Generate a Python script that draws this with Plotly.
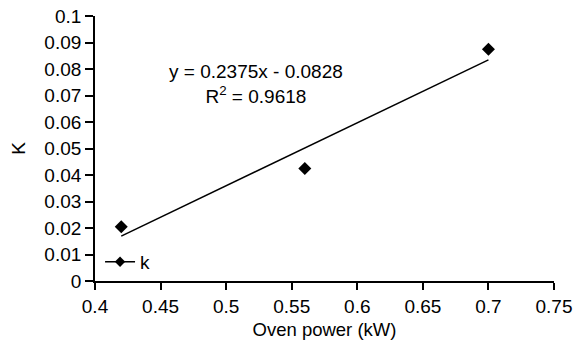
import plotly.graph_objects as go

power_kw = [0.42, 0.56, 0.70]
k_values = [0.0205, 0.0425, 0.0875]
slope = 0.2375
intercept = -0.0828
x_ticks = [0.4, 0.45, 0.5, 0.55, 0.6, 0.65, 0.7, 0.75]
x_tick_text = ["0.4", "0.45", "0.5", "0.55", "0.6", "0.65", "0.7", "0.75"]
y_ticks = [0, 0.01, 0.02, 0.03, 0.04, 0.05, 0.06, 0.07, 0.08, 0.09, 0.1]
y_tick_text = ["0", "0.01", "0.02", "0.03", "0.04", "0.05", "0.06", "0.07", "0.08", "0.09", "0.1"]

trend_x = [min(power_kw), max(power_kw)]
trend_y = [slope * v + intercept for v in trend_x]

font = "Liberation Sans, Arial, sans-serif"
fig = go.Figure()
fig.add_trace(go.Scatter(x=power_kw, y=k_values, mode="markers",
                         marker=dict(symbol="diamond", size=10, color="black"),
                         showlegend=False))
fig.add_trace(go.Scatter(x=trend_x, y=trend_y, mode="lines",
                         line=dict(color="black", width=1.5), showlegend=False))
fig.add_trace(go.Scatter(x=[None], y=[None], mode="lines+markers", name="k",
                         line=dict(color="black", width=1.5),
                         marker=dict(symbol="diamond", size=8, color="black")))

fig.add_annotation(x=0.5228, y=0.0745, xref="x", yref="y", showarrow=False,
                   text="y = 0.2375x - 0.0828<br>R<sup>2</sup> = 0.9618",
                   font=dict(family=font, size=19, color="black"), align="center")

fig.update_layout(
    width=579, height=339,
    margin=dict(l=87, r=33, t=8, b=66),
    paper_bgcolor="white", plot_bgcolor="white",
    font=dict(family=font, size=19, color="black"),
    legend=dict(x=0.011, y=0.072, xanchor="left", yanchor="middle",
                bgcolor="rgba(0,0,0,0)", font=dict(family=font, size=19),
                itemwidth=30, tracegroupgap=0),
    xaxis=dict(range=[0.4, 0.75], tickvals=x_ticks, ticktext=x_tick_text,
               showgrid=False, zeroline=False, showline=True, linecolor="black",
               linewidth=1.8, ticks="outside", ticklen=7, tickcolor="black",
               tickwidth=1.5, automargin=False, ticklabeloverflow="allow",
               title=dict(text="Oven power (kW)", standoff=7, font=dict(size=18.5))),
    yaxis=dict(range=[0, 0.1], tickvals=y_ticks, ticktext=y_tick_text,
               showgrid=False, zeroline=False, showline=True, linecolor="black",
               linewidth=1.8, ticks="outside", ticklen=8, tickcolor="black",
               tickwidth=1.5, automargin=False, ticklabeloverflow="allow",
               title=dict(text="K", standoff=14, font=dict(size=19))),
)
fig.write_html("out.html")
